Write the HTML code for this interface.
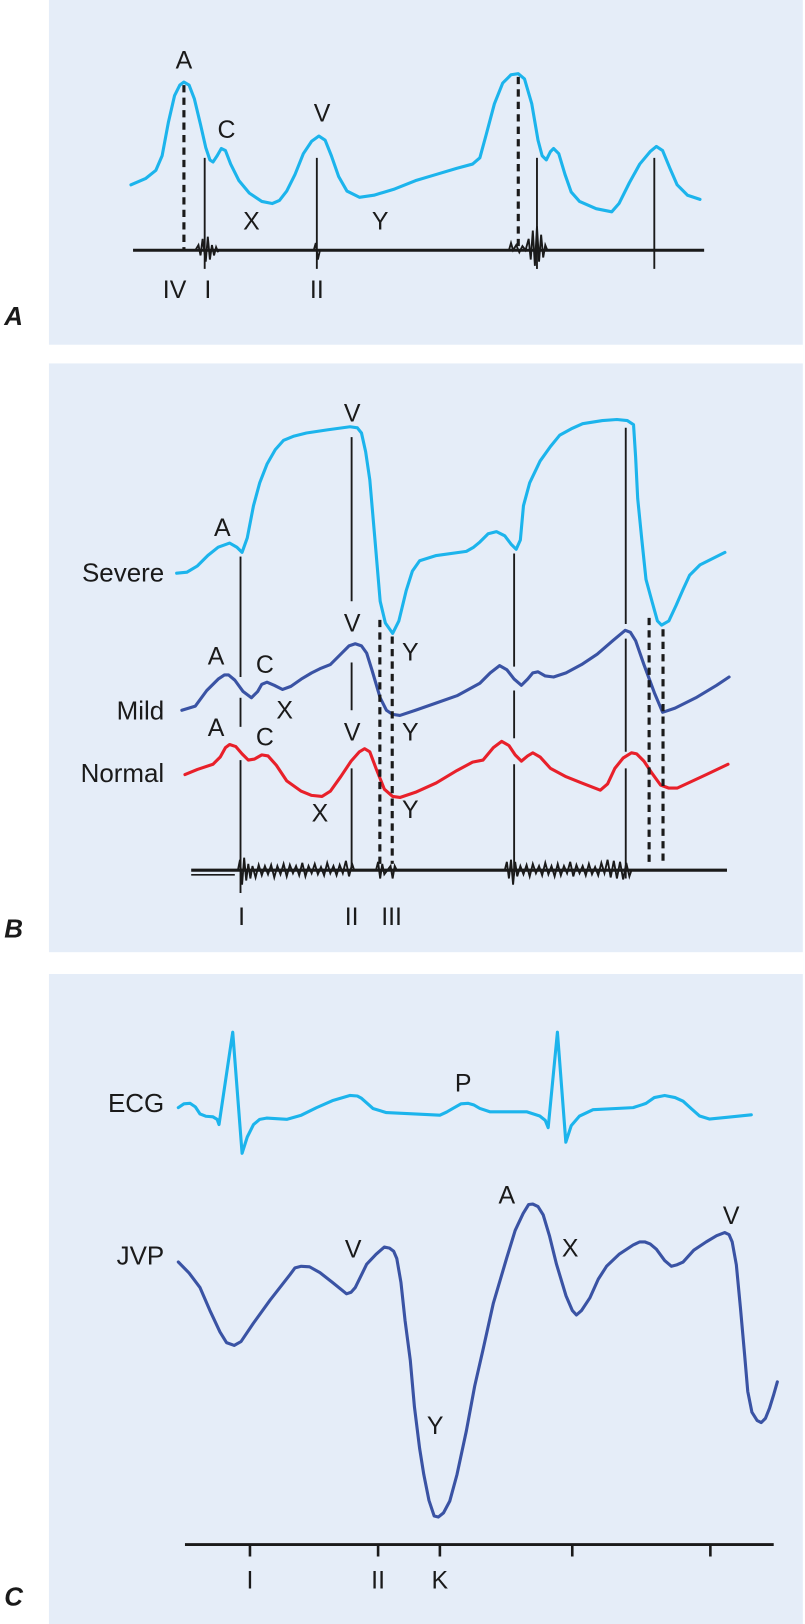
<!DOCTYPE html>
<html><head><meta charset="utf-8"><style>
html,body{margin:0;padding:0;background:#fff;}
svg{display:block;}
text{font-family:"Liberation Sans",sans-serif;fill:#1a1a1a;}
.c{fill:none;stroke-width:3;stroke-linejoin:round;stroke-linecap:round;}
.k{stroke:#1a1a1a;stroke-width:1.8;fill:none;}
.d{stroke:#1a1a1a;stroke-width:3;stroke-dasharray:7,5;fill:none;}
</style></head><body>
<svg width="805" height="1624" viewBox="0 0 775 1564" xmlns="http://www.w3.org/2000/svg">
<rect x="0" y="0" width="775" height="1564" fill="#fff"/>
<rect x="47" y="0" width="726" height="332" fill="#e5edf8"/>
<rect x="47" y="350" width="726" height="567" fill="#e5edf8"/>
<rect x="47" y="938" width="726" height="626" fill="#e5edf8"/>

<!-- Panel A -->
<polyline class="c" stroke="#1cb4ec" points="126,178 140,172 150,164 156,150 162,118 168,92 173,82 177,79 182,82 187,95 193,120 198,142 202,154 205,156 209,150 213,143 217,145 222,158 230,174 240,186 252,194 262,196 269,193 276,184 284,168 292,148 300,136 307,131 313,135 319,150 326,170 334,184 346,190 360,188 380,182 400,174 420,168 440,162 455,158 462,152 468,130 476,100 484,80 492,72 499,71 505,76 512,100 518,135 522,150 526,154 530,146 533,143 538,148 544,168 550,185 558,194 574,201 589,204 596,196 606,176 616,158 626,146 632,141 638,145 645,162 652,178 662,188 674,192"/>
<line x1="128" y1="241" x2="678" y2="241" stroke="#1a1a1a" stroke-width="3"/>
<line class="d" x1="177" y1="82" x2="177" y2="241"/>
<line class="d" x1="499" y1="74" x2="499" y2="241"/>
<line class="k" x1="197" y1="152" x2="197" y2="259"/>
<line class="k" x1="305" y1="152" x2="305" y2="259"/>
<line class="k" x1="517" y1="152" x2="517" y2="259"/>
<line class="k" x1="630" y1="152" x2="630" y2="259"/>
<polyline class="k" stroke-width="2" points="188,241 191,236 193,246 195,230 198,252 200,228 202,250 204,236 206,246 208,238 210,243"/>
<polyline class="k" stroke-width="2" points="302,241 304,234 306,250 308,241"/>
<polyline class="k" stroke-width="2" points="490,241 492,234 494,241 497,236 500,243 503,237 506,241 509,230 511,250 513,222 515,256 517,218 519,252 521,226 523,248 525,236 527,241"/>
<g font-size="24" text-anchor="middle">
<text x="177" y="66">A</text><text x="218" y="133">C</text><text x="310" y="117">V</text>
<text x="242" y="221">X</text><text x="366" y="221">Y</text>
<text x="168" y="287">IV</text><text x="200" y="287">I</text><text x="305" y="287">II</text>
</g>
<text x="4" y="313" font-size="25" font-weight="bold" font-style="italic">A</text>

<!-- Panel B -->
<polyline class="c" stroke="#1cb4ec" points="170,552 180,551 190,545 200,535 210,527 221,523 228,527 233,532 238,518 244,487 250,465 257,447 265,433 273,424 283,420 295,417 315,414 337,411 344,412 348,417 352,435 356,462 361,520 366,579 371,600 378,610 384,598 391,569 397,550 404,540 420,535 449,531 456,527 462,522 470,514 478,512 486,516 492,524 497,529 501,520 504,487 510,465 520,444 530,430 539,419 550,413 561,408 580,405 594,404 604,405 610,409 612,440 614,480 618,520 622,558 628,580 633,598 637,602 644,598 651,583 658,567 664,554 674,544 686,538 698,532"/>
<polyline class="c" stroke="#3a53a4" points="175,684 188,680 199,665 210,654 216,650 220,650 226,655 234,666 242,672 248,666 252,659 257,657 264,660 272,664 280,661 290,654 300,648 308,644 318,640 328,630 336,622 342,620 348,622 353,629 358,645 366,672 372,684 378,688 385,689 400,684 420,677 440,670 462,658 472,648 481,641 488,645 495,654 502,660 508,654 513,648 518,647 525,651 533,652 545,648 560,640 575,630 590,617 602,607 607,609 612,617 620,640 630,667 638,686 650,682 670,672 690,660 702,652"/>
<polyline class="c" stroke="#e8202a" points="178,746 190,741 205,736 212,729 217,720 221,717 227,719 233,726 239,732 245,731 252,727 258,728 266,737 276,752 290,762 300,766 310,767 318,762 328,748 338,733 346,724 351,721 356,724 362,740 370,760 378,767 385,768 400,763 420,754 440,742 455,734 465,732 475,720 483,714 490,718 496,727 502,733 508,728 513,725 520,729 530,740 545,748 560,754 578,761 585,755 592,740 600,730 608,725 613,726 620,733 628,745 636,756 644,759 652,759 665,753 680,746 701,736"/>
<g class="k">
<line x1="231.5" y1="536" x2="231.5" y2="652"/><line x1="231.5" y1="672" x2="231.5" y2="700"/><line x1="231.5" y1="732" x2="231.5" y2="860"/>
<line x1="338.5" y1="421" x2="338.5" y2="579"/><line x1="338.5" y1="638" x2="338.5" y2="684"/><line x1="338.5" y1="740" x2="338.5" y2="836"/>
<line x1="495" y1="533" x2="495" y2="642"/><line x1="495" y1="665" x2="495" y2="711"/><line x1="495" y1="736" x2="495" y2="843"/>
<line x1="602.5" y1="412" x2="602.5" y2="601"/><line x1="602.5" y1="615" x2="602.5" y2="724"/><line x1="602.5" y1="740" x2="602.5" y2="846"/>
</g>
<line class="d" x1="365.7" y1="597" x2="365.7" y2="832"/>
<line class="d" x1="377.6" y1="613" x2="377.6" y2="832"/>
<line class="d" x1="625" y1="595" x2="625" y2="832"/>
<line class="d" x1="638.4" y1="606" x2="638.4" y2="831"/>
<line x1="184" y1="838" x2="700" y2="838" stroke="#1a1a1a" stroke-width="3"/>
<line x1="184" y1="842.5" x2="226" y2="842.5" stroke="#1a1a1a" stroke-width="1.5"/>
<polyline class="k" stroke-width="2" points="229,838 231,828 233,852 235,826 237,848 239,832 241,846 243,834 246,845 249,833 252,843 255,834 258,842 261,833 264,845 267,834 270,842 273,832 276,844 279,833 282,841 285,834 288,843 291,831 294,844 297,834 300,841 303,832 306,842 309,835 312,843 315,831 318,841 321,834 324,843 327,833 330,841 333,829 336,844 339,832 341,838"/>
<polyline class="k" stroke-width="2" points="362,838 364,830 366,846 368,832 370,842 373,838 376,834 378,846 380,834 382,838"/>
<polyline class="k" stroke-width="2" points="486,838 488,830 490,846 492,828 494,852 496,830 498,844 501,834 504,842 507,833 510,844 513,832 516,841 519,834 522,843 525,831 528,842 531,834 534,844 537,832 540,843 543,834 546,841 549,830 552,844 555,833 558,841 561,834 564,843 567,832 570,842 573,835 576,843 579,831 582,841 585,828 588,845 591,829 594,846 597,830 600,847 603,831 606,844 608,838"/>
<g font-size="24" text-anchor="middle">
<text x="214" y="516">A</text><text x="339" y="406">V</text>
<text x="339" y="608">V</text><text x="208" y="640">A</text><text x="255" y="648">C</text><text x="274" y="692">X</text><text x="395" y="636">Y</text>
<text x="208" y="709">A</text><text x="255" y="718">C</text><text x="339" y="713">V</text><text x="395" y="713">Y</text>
<text x="308" y="791">X</text><text x="395" y="788">Y</text>
<text x="232.5" y="891">I</text><text x="338.5" y="891">II</text><text x="377" y="891">III</text>
</g>
<g font-size="25" text-anchor="end">
<text x="158" y="560">Severe</text><text x="158" y="693">Mild</text><text x="158" y="753">Normal</text>
</g>
<text x="4" y="903" font-size="25" font-weight="bold" font-style="italic">B</text>

<!-- Panel C -->
<polyline class="c" stroke="#1cb4ec" stroke-width="2.6" points="171.6,1066.7 177,1063 183,1062.6 188,1066 192.5,1072.8 198,1075 205,1075.6 209,1078 210.8,1083 224,994 233,1110.7 238,1095 244,1083 250,1078 256.6,1076.8 276,1078 290,1074 304.8,1066.7 320,1060 336.8,1055 344,1055.5 348,1057.7 354,1063 359,1067.5 372,1071.5 404,1073 423.5,1074 430,1071 436,1067.5 444,1063 450.8,1062.6 456,1064 462,1067.5 471.6,1070.7 507,1070.7 519.7,1074.8 525,1079 527.8,1086 536.7,994 544.8,1100 550,1084 558,1074.8 571,1068.7 609.6,1066.7 618,1064 622,1062.6 630,1057 640,1055 650,1057 657.7,1060.5 666,1068 673.7,1074.8 683,1077.7 700,1076 723.4,1073.6"/>
<polyline class="c" stroke="#3a53a4" stroke-width="2.8" points="171.6,1215.4 182,1226 192.5,1240 202,1262 211.7,1282.7 218,1293 225.5,1295.7 232,1292 243.8,1274.5 260,1252 279,1227.7 284,1221 290,1219.5 298,1220 308,1225.6 320,1235 333.6,1246 338,1244.5 342,1240 353,1217.5 362,1208 370,1201 375,1202 379,1205 382,1212 386,1235 390,1272 395,1310 399,1355 404,1395 408,1420 413,1445 418,1460 422,1461 427,1457 433,1445.7 440,1420 449,1378 457,1335 465,1300 475,1255 487.7,1212 496,1185 503.7,1168.6 509,1160 513,1159.6 518,1162 523,1170 529,1190 535.8,1217.5 545,1248 551,1262 555,1266.4 560,1262 567.9,1250 576,1232 584,1219.5 596,1208 609.6,1199 616,1196 620.8,1196 626,1198 632,1203 640,1214 646.5,1219.5 652,1218 657.7,1215.4 668,1204 680,1196 690,1190 697.8,1187 702,1189 705,1196 709,1218 713,1260 717,1305 720,1340 724,1360 729,1368 733,1370 737,1366 741,1356 745,1343 748.5,1330.8"/>
<line x1="178" y1="1487.5" x2="745" y2="1487.5" stroke="#1a1a1a" stroke-width="2.8"/>
<g stroke="#1a1a1a" stroke-width="2.5">
<line x1="240.6" y1="1487" x2="240.6" y2="1499"/><line x1="364" y1="1487" x2="364" y2="1499"/>
<line x1="423.5" y1="1487" x2="423.5" y2="1499"/><line x1="551" y1="1487" x2="551" y2="1499"/>
<line x1="684" y1="1487" x2="684" y2="1499"/>
</g>
<g font-size="24" text-anchor="middle">
<text x="340" y="1211">V</text><text x="446" y="1051">P</text><text x="488" y="1159">A</text>
<text x="549" y="1210">X</text><text x="704" y="1179">V</text><text x="419" y="1381">Y</text>
<text x="240.6" y="1530">I</text><text x="364" y="1530">II</text><text x="423.5" y="1530">K</text>
</g>
<g font-size="25" text-anchor="end">
<text x="158" y="1071">ECG</text><text x="158" y="1218">JVP</text>
</g>
<text x="4" y="1546" font-size="25" font-weight="bold" font-style="italic">C</text>
</svg>
</body></html>
